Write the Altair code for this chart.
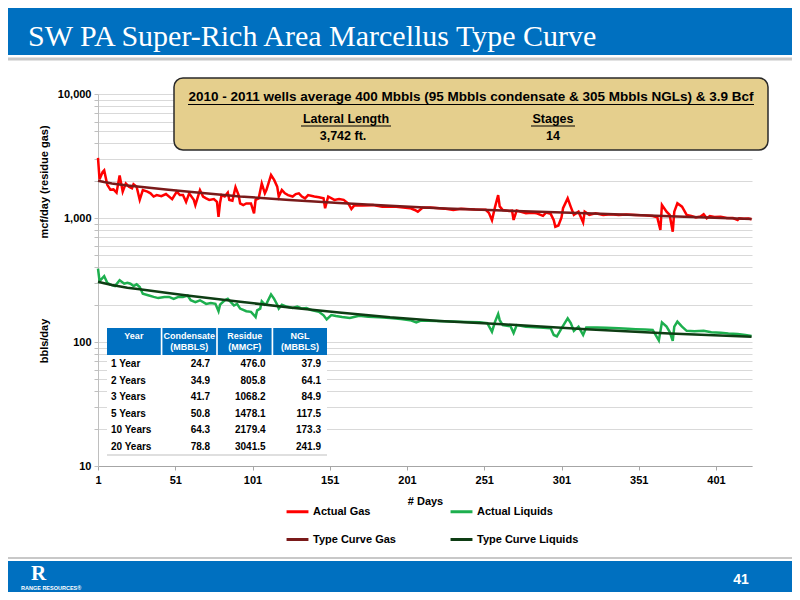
import altair as alt
import pandas as pd

# ---------------- data ----------------
gas_days = [1, 2, 4, 5, 7, 9, 11, 13, 15, 16, 17, 19, 21, 23, 24, 26, 28, 30, 33, 35,
            37, 39, 42, 45, 49, 52, 54, 56, 58, 60, 63, 64, 66, 67, 69, 71, 73, 76, 78, 79,
            80, 81, 83, 85, 86, 88, 90, 92, 93, 95, 97, 100, 102, 103, 105, 107, 109, 110, 113, 115,
            117, 118, 120, 122, 124, 127, 129, 131, 133, 135, 137, 141, 144, 147, 148, 150, 154, 157, 160, 163,
            165, 167, 172, 179, 185, 194, 203, 206, 208, 211, 216, 222, 225, 231, 236, 245, 252, 254, 256, 258,
            260, 261, 263, 265, 267, 269, 270, 272, 278, 282, 285, 289, 291, 294, 296, 297, 299, 301, 302, 305,
            307, 309, 312, 315, 316, 319, 323, 328, 333, 338, 343, 349, 355, 360, 363, 365, 366, 369, 371, 373,
            374, 376, 379, 382, 385, 388, 391, 393, 395, 397, 400, 404, 408, 412, 415, 416, 419, 422, 424]
gas_actual = [3050, 2050, 2350, 2420, 1850, 1690, 1700, 1600, 2200, 1900, 1630, 1900, 1790, 1740, 1870, 1790, 1400, 1680, 1630, 1580,
              1490, 1530, 1500, 1560, 1420, 1630, 1530, 1530, 1350, 1580, 1400, 1270, 1530, 1680, 1490, 1440, 1400, 1420, 1350, 1020,
              1330, 1530, 1490, 1600, 1400, 1380, 1770, 1530, 1310, 1270, 1310, 1310, 1090, 1400, 1440, 1900, 1580, 1680, 2220, 2030,
              1790, 1490, 1680, 1580, 1530, 1490, 1560, 1580, 1490, 1440, 1530, 1490, 1470, 1440, 1200, 1490, 1400, 1420, 1400, 1310,
              1180, 1270, 1260, 1270, 1235, 1230, 1200, 1160, 1125, 1210, 1215, 1200, 1190, 1160, 1185, 1170, 1165, 1100, 960, 1230,
              1530, 1240, 1160, 1150, 1140, 1145, 965, 1150, 1091, 1100, 1091, 1040, 1105, 1080, 960, 850, 870, 1010, 1200, 1440,
              1230, 1060, 1125, 920, 1125, 1060, 1091, 1059, 1070, 1059, 1065, 1059, 1050, 1038, 1012, 800, 1273, 1125, 1059, 776,
              1125, 1314, 1233, 1059, 1040, 1012, 1030, 1074, 994, 1038, 1020, 1025, 1000, 1000, 964, 994, 985, 990, 978]

liq_days = [1, 2, 5, 7, 9, 12, 15, 18, 20, 22, 24, 26, 28, 30, 34, 37, 40, 44, 47, 50,
            53, 56, 59, 61, 64, 67, 71, 74, 77, 79, 80, 83, 85, 87, 89, 91, 93, 97, 100, 103,
            104, 106, 107, 109, 110, 113, 115, 117, 118, 120, 123, 127, 130, 133, 136, 139, 144, 147, 149, 152,
            155, 159, 164, 170, 176, 183, 190, 197, 203, 207, 210, 220, 231, 240, 248, 253, 256, 258, 260, 261,
            263, 268, 270, 272, 278, 287, 294, 296, 298, 301, 305, 307, 309, 312, 315, 317, 324, 330, 338, 344,
            349, 355, 360, 364, 366, 369, 371, 373, 374, 376, 379, 382, 387, 393, 398, 404, 409, 415, 420, 424]
liq_actual = [390, 310, 340, 300, 290, 283, 315, 295, 300, 295, 283, 292, 278, 245, 237, 231, 226, 231, 231, 223,
              231, 231, 237, 217, 210, 217, 203, 206, 203, 177, 200, 217, 223, 210, 197, 203, 186, 177, 175, 159,
              180, 186, 213, 200, 203, 242, 223, 200, 186, 200, 193, 188, 193, 186, 188, 181, 175, 164, 152, 165,
              162, 159, 156, 163, 160, 158, 156, 153, 150, 144, 149, 148, 146, 145, 144, 142, 121, 146, 168, 150,
              137, 134, 118, 137, 133, 131, 129, 114, 111, 129, 155, 142, 123, 133, 114, 131, 131, 130, 129, 128,
              127, 126, 125, 103, 144, 133, 121, 102, 133, 146, 133, 123, 122, 123, 120, 119, 117, 116, 114, 112]

tc_days = [1, 5, 10, 20, 28, 45, 60, 93, 125, 157, 190, 222, 263, 317, 371, 424]
tc_gas = [2000, 1950, 1900, 1830, 1790, 1700, 1630, 1490, 1400, 1320, 1255, 1200, 1150, 1090, 1035, 982]
tc_liquids = [306, 298, 288, 274, 266, 250, 236, 211, 190, 173, 158, 148, 139, 127, 117, 110]

# legend order (filled column by column): gas pair in column 1, liquids pair in column 2
series_names = ["Actual Gas", "Type Curve Gas", "Actual Liquids", "Type Curve Liquids"]
series_colors = ["#FF0000", "#7A1A1A", "#1DAF4E", "#0E3D14"]

x_ticks = [1, 51, 101, 151, 201, 251, 301, 351, 401]
y_ticks = [m * 10 ** e for e in (1, 2, 3) for m in range(1, 10)] + [10000]

table_rows = ["1 Year", "2 Years", "3 Years", "5 Years", "10 Years", "20 Years"]
condensate = [24.7, 34.9, 41.7, 50.8, 64.3, 78.8]
residue = [476.0, 805.8, 1068.2, 1478.1, 2179.4, 3041.5]
ngl = [37.9, 64.1, 84.9, 117.5, 173.3, 241.9]
table_cols = ["Year", "Condensate", "Residue", "NGL"]
table_headers = ["Year", "Condensate\n(MBBLS)", "Residue\n(MMCF)", "NGL\n(MBBLS)"]

slide_title = "SW PA Super-Rich Area Marcellus Type Curve"
box_line1 = "2010 - 2011 wells average 400 Mbbls (95 Mbbls condensate & 305 Mbbls NGLs) & 3.9 Bcf"
box_heads = ["Lateral Length", "Stages"]
box_vals = ["3,742 ft.", "14"]
page_number = "41"

FONT = "Liberation Sans"
BLUE = "#0070C0"

# ---------------- frames ----------------
actual_df = pd.concat([
    pd.DataFrame({"day": gas_days, "value": gas_actual, "series": "Actual Gas"}),
    pd.DataFrame({"day": liq_days, "value": liq_actual, "series": "Actual Liquids"}),
])
tc_df = pd.concat([
    pd.DataFrame({"day": tc_days, "value": tc_gas, "series": "Type Curve Gas"}),
    pd.DataFrame({"day": tc_days, "value": tc_liquids, "series": "Type Curve Liquids"}),
])

x_enc = alt.X("day:Q",
              scale=alt.Scale(domain=[1, 424.3], nice=False, zero=False),
              axis=alt.Axis(values=x_ticks, title="# Days", grid=False,
                            titleFont=FONT, titleFontSize=11, titleFontWeight="bold",
                            titleColor="black", titlePadding=10,
                            labelFont=FONT, labelFontSize=11, labelFontWeight="bold",
                            labelColor="black", labelFlush=False, labelPadding=4,
                            tickSize=4, tickColor="#A6A6A6", domainColor="#A6A6A6"))
y_enc = alt.Y("value:Q",
              scale=alt.Scale(type="log", domain=[10, 10000], nice=False),
              axis=alt.Axis(values=y_ticks, title=None, grid=True, gridColor="#D9D9D9",
                            labelExpr="indexof([10,100,1000,10000], datum.value) >= 0 ? format(datum.value, ',') : ''",
                            labelOverlap=False, labelFont=FONT, labelFontSize=11,
                            labelFontWeight="bold", labelColor="black", labelPadding=3,
                            tickSize=4, tickColor="#BFBFBF", domainColor="#BFBFBF"))
color_enc = alt.Color("series:N",
                      scale=alt.Scale(domain=series_names, range=series_colors),
                      legend=alt.Legend(title=None, orient="none", legendX=187, legendY=405,
                                        columns=2, columnPadding=48, rowPadding=9,
                                        symbolType="stroke", symbolStrokeWidth=3,
                                        symbolSize=480, labelOffset=3,
                                        labelFont=FONT, labelFontSize=11,
                                        labelFontWeight="bold", labelColor="black"))

actual = alt.Chart(actual_df).mark_line(strokeWidth=2.5).encode(x=x_enc, y=y_enc, color=color_enc)
tc = alt.Chart(tc_df).mark_line(strokeWidth=2.5).encode(x=x_enc, y=y_enc, color=color_enc)
plot_group = alt.layer(actual, tc)

# ---------------- table ----------------
tx_scale = alt.Scale(domain=table_cols, range=[9, 229], paddingInner=0.03, paddingOuter=0)
ty_scale = alt.Scale(domain=table_rows, range=[262, 361], paddingInner=0, paddingOuter=0)

hdr_df = pd.DataFrame({"col": table_cols, "label": table_headers})
rows_df = pd.DataFrame({"row": table_rows, "col": "Year", "text": table_rows})
num_df = pd.concat([
    pd.DataFrame({"row": table_rows, "col": "Condensate", "text": [f"{v:.1f}" for v in condensate]}),
    pd.DataFrame({"row": table_rows, "col": "Residue", "text": [f"{v:.1f}" for v in residue]}),
    pd.DataFrame({"row": table_rows, "col": "NGL", "text": [f"{v:.1f}" for v in ngl]}),
])


def one():
    return pd.DataFrame({"k": [0]})


t_bg = alt.Chart(one()).mark_rect(fill="white").encode(
    x=alt.value(9), x2=alt.value(229), y=alt.value(234), y2=alt.value(361))
t_hdr = alt.Chart(hdr_df).mark_rect(color=BLUE).encode(
    x=alt.X("col:N", scale=tx_scale, axis=None), y=alt.value(234), y2=alt.value(261))
t_hdr_text = alt.Chart(hdr_df).mark_text(
    color="white", font=FONT, fontSize=9, fontWeight="bold", lineBreak="\n",
    lineHeight=11, align="center", baseline="middle").encode(
    x=alt.X("col:N", scale=tx_scale, axis=None), y=alt.value(242), text="label:N")
t_rows = alt.Chart(rows_df).mark_text(
    font=FONT, fontSize=10, fontWeight="bold", align="left", baseline="middle", dx=4,
    color="black").encode(
    x=alt.X("col:N", scale=tx_scale, axis=None, bandPosition=0),
    y=alt.Y("row:N", scale=ty_scale, axis=None, bandPosition=0.5), text="text:N")
t_nums = alt.Chart(num_df).mark_text(
    font=FONT, fontSize=10, fontWeight="bold", align="right", baseline="middle", dx=-6,
    color="black").encode(
    x=alt.X("col:N", scale=tx_scale, axis=None, bandPosition=1),
    y=alt.Y("row:N", scale=ty_scale, axis=None, bandPosition=0.5), text="text:N")
t_line = alt.Chart(one()).mark_rule(color="#BFBFBF", strokeWidth=1).encode(
    x=alt.value(9), x2=alt.value(229), y=alt.value(361))
table_group = alt.layer(t_bg, t_hdr, t_hdr_text, t_rows, t_nums, t_line)


# ---------------- slide decorations ----------------
def rect(x, x2, y, y2, **kw):
    return alt.Chart(one()).mark_rect(**kw).encode(
        x=alt.value(x), x2=alt.value(x2), y=alt.value(y), y2=alt.value(y2))


def text(s, x, y, **kw):
    return alt.Chart(one()).mark_text(**kw).encode(
        x=alt.value(x), y=alt.value(y), text=alt.value(s))


def rule(x, x2, y, **kw):
    return alt.Chart(one()).mark_rule(**kw).encode(
        x=alt.value(x), x2=alt.value(x2), y=alt.value(y))


bold = dict(font=FONT, fontWeight="bold", color="black")

deco = [
    rect(-90, 694, -86, -39, color=BLUE),
    text(slide_title, -70, -48, font="Liberation Serif", fontSize=30, color="white",
         align="left", baseline="alphabetic"),
    rect(-90, 694, -36.5, -33.5, color="#C8C8C8"),
    rect(-90, 694, 463, 465, color="#C8C8C8"),
    rect(-90, 694, 467, 498, color=BLUE),
    text(page_number, 643, 486, font=FONT, fontSize=14, fontWeight="bold", color="white",
         align="center", baseline="middle"),
    text("R", -67, 486, font="Liberation Serif", fontSize=21, fontWeight="bold",
         color="white", align="left", baseline="alphabetic"),
    text("RANGE RESOURCES\u00ae", -77, 496, font=FONT, fontSize=5.5, fontWeight="bold",
         color="white", align="left", baseline="alphabetic"),
    text("mcf/day (residue gas)", -53, 88, angle=270, fontSize=11, align="center",
         baseline="middle", **bold),
    text("bbls/day", -53, 247, angle=270, fontSize=11, align="center",
         baseline="middle", **bold),
]

box = alt.Chart(one()).mark_rect(fill="#E5CF8D", stroke="#2A2A2A", strokeWidth=1.5,
                                 cornerRadius=9).encode(
    x=alt.value(76), x2=alt.value(670), y=alt.value(-16), y2=alt.value(56))

box_items = [
    text(box_line1, 373, 3, fontSize=13.5, align="center", baseline="middle", **bold),
    rule(90, 656, 10.5, color="black", strokeWidth=1.2),
    text(box_heads[0], 248, 25, fontSize=12.5, align="center", baseline="middle", **bold),
    rule(203, 293, 32, color="black", strokeWidth=1.2),
    text(box_heads[1], 455, 25, fontSize=12.5, align="center", baseline="middle", **bold),
    rule(433, 477, 32, color="black", strokeWidth=1.2),
    text(box_vals[0], 245, 42, fontSize=12.5, align="center", baseline="middle", **bold),
    text(box_vals[1], 455, 42, fontSize=12.5, align="center", baseline="middle", **bold),
]

chart = alt.layer(
    *deco, table_group, plot_group, box, *box_items
).resolve_scale(x="independent", y="independent").properties(
    width=654, height=372,
    padding={"left": 90, "top": 86, "right": 40, "bottom": 126},
    autosize=alt.AutoSizeParams(type="none"),
    background="white",
).configure_view(stroke=None)

chart.save("out.html", embed_options={"renderer": "svg", "actions": False})
